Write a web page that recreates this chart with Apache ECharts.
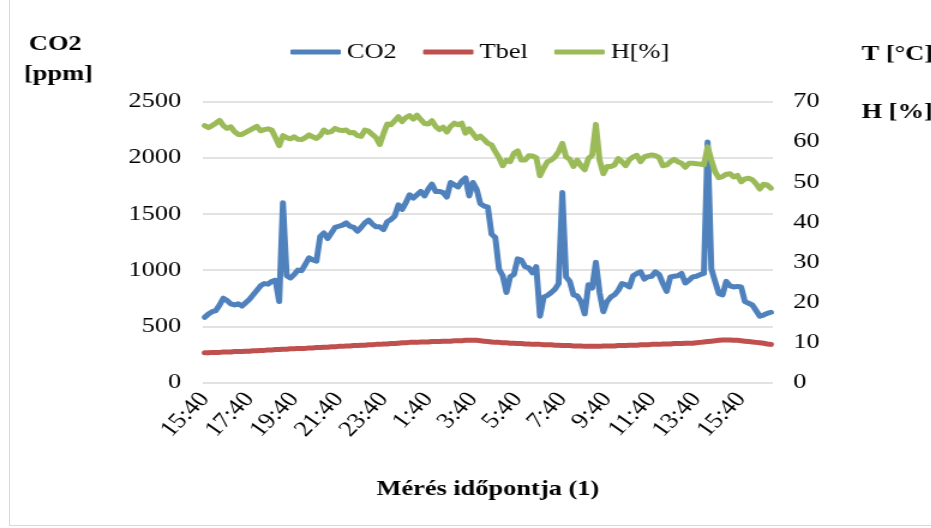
<!DOCTYPE html>
<html>
<head>
<meta charset="utf-8">
<script src="https://cdn.jsdelivr.net/npm/echarts@6/dist/echarts.min.js"></script>
<style>
  html, body { margin: 0; padding: 0; background: #fff; overflow: hidden; }
  #frame { position: absolute; left: 9px; top: -2px; width: 940px; height: 528px; border: 1px solid #d9d9d9; box-sizing: border-box; }
  /* the source picture is stretched sideways, so draw narrower and stretch */
  #chart { position: absolute; left: 0; top: 0; width: 776px; height: 528px; transform: scaleX(1.2); transform-origin: 0 0; }
</style>
</head>
<body>
<div id="frame"></div>
<div id="chart"></div>
<script>
// 10 minute readings, 15:40 -> 17:00 next day
const times = [];
for (let m = 15 * 60 + 40; times.length < 153; m += 10) {
  const h = Math.floor(m / 60) % 24;
  const mm = m % 60;
  times.push(h + ':' + (mm < 10 ? '0' : '') + mm);
}

const co2 = [
  580, 610, 630, 640, 690, 750, 730, 700, 690, 700,
  680, 710, 740, 780, 820, 860, 880, 875, 900, 910,
  720, 1600, 950, 930, 960, 1000, 995, 1050, 1110, 1090,
  1080, 1300, 1330, 1280, 1330, 1380, 1390, 1400, 1420, 1390,
  1380, 1345, 1380, 1420, 1445, 1410, 1385, 1385, 1360, 1430,
  1450, 1480, 1580, 1540, 1600, 1670, 1640, 1670, 1700, 1660,
  1720, 1765, 1700, 1700, 1690, 1650, 1780, 1760, 1740, 1790,
  1820, 1660, 1780, 1720, 1590, 1570, 1560, 1320, 1290, 1010,
  950, 800, 940, 960, 1100, 1090, 1030, 1020, 975, 1030,
  590, 760, 775, 800, 830, 880, 1690, 940, 900, 780,
  770, 720, 610, 870, 840, 1070, 800, 630, 720, 760,
  780, 820, 880, 870, 850, 950, 970, 985, 920, 940,
  945, 985, 960, 880, 810, 940, 945, 950, 970, 885,
  910, 940, 945, 960, 970, 2140, 1010, 900, 790, 780,
  900, 860, 850, 855, 850, 720, 705, 690, 640, 590,
  600, 615, 625
];

const tbel = [
  7.4, 7.4, 7.5, 7.5, 7.5, 7.6, 7.6, 7.6, 7.7, 7.7, 7.7, 7.8, 7.8, 7.9, 7.9, 8.0, 8.0, 8.1,
  8.1, 8.2, 8.2, 8.3, 8.3, 8.4, 8.4, 8.5, 8.5, 8.5, 8.6, 8.6, 8.7, 8.7, 8.8, 8.8, 8.9, 8.9, 9.0, 9.0, 9.1,
  9.1, 9.2, 9.2, 9.3, 9.3, 9.4, 9.4, 9.5, 9.5, 9.6, 9.6, 9.7, 9.7, 9.8, 9.9,
  9.9, 10.0, 10.0, 10.0, 10.1, 10.1, 10.1, 10.2, 10.2, 10.2, 10.3, 10.3, 10.3, 10.4, 10.4,
  10.4, 10.5, 10.5, 10.5, 10.5,
  10.4, 10.3, 10.2, 10.1, 10.0, 10.0, 9.9, 9.9, 9.8,
  9.8, 9.7, 9.7, 9.6, 9.6, 9.5, 9.5, 9.5, 9.4, 9.4, 9.4,
  9.3, 9.3, 9.2, 9.2, 9.2, 9.1, 9.1, 9.1, 9.0, 9.0,
  9.0, 9.0, 9.0, 9.1, 9.1, 9.1, 9.1, 9.2, 9.2, 9.2, 9.3,
  9.3, 9.3, 9.4, 9.4, 9.4, 9.5, 9.5, 9.5, 9.6, 9.6, 9.6, 9.7, 9.7, 9.7, 9.8, 9.8, 9.8, 9.9,
  10.0, 10.1, 10.2, 10.3, 10.4, 10.5, 10.6,
  10.6, 10.6, 10.5, 10.5, 10.4, 10.3,
  10.2, 10.1, 10.0, 9.9, 9.8, 9.6, 9.5
];

const hum = [
  64.0, 63.5, 64.0, 64.6, 65.3, 64.0, 63.3, 63.7, 62.5, 61.8,
  61.8, 62.3, 62.8, 63.3, 63.8, 62.7, 63.0, 63.2, 62.9, 61.0,
  59.0, 61.5, 61.0, 60.7, 61.2, 60.6, 60.5, 61.0, 61.7, 61.2,
  60.8, 61.5, 62.9, 62.3, 62.5, 63.3, 62.9, 62.8, 62.9, 62.2,
  62.3, 61.5, 61.3, 62.9, 62.6, 61.8, 61.0, 59.3, 62.0, 64.4,
  64.2, 65.2, 66.2, 65.0, 66.0, 66.5, 65.6, 66.6, 65.5, 64.5,
  64.4, 65.2, 63.8, 63.0, 63.6, 62.4, 63.8, 64.6, 64.2, 64.6,
  62.1, 63.2, 62.0, 60.8, 61.4, 60.5, 59.6, 59.2, 57.5, 56.0,
  54.0, 55.4, 55.0, 57.1, 57.7, 55.4, 55.4, 56.5, 56.4, 56.0,
  51.5, 53.4, 55.0, 55.4, 56.2, 57.5, 59.6, 56.2, 55.6, 53.8,
  55.4, 54.0, 53.0, 55.8, 56.6, 64.3, 55.4, 52.0, 53.8, 53.8,
  54.2, 55.8, 55.0, 54.0, 55.5, 56.2, 56.6, 55.0, 56.2, 56.5,
  56.7, 56.5, 56.0, 54.0, 54.2, 55.0, 55.6, 55.0, 54.6, 53.6,
  54.6, 54.6, 54.5, 54.4, 54.2, 58.7, 55.4, 52.5, 51.0, 51.3,
  51.9, 52.0, 51.2, 51.6, 50.0, 50.7, 50.9, 50.5, 49.5, 48.2,
  49.4, 49.2, 48.4
];

const serif = '"Liberation Serif", "Times New Roman", serif';

const chart = echarts.init(document.getElementById('chart'), null, { renderer: 'canvas' });

function lineSeries(name, data, color, axis) {
  return {
    name: name,
    type: 'line',
    data: data,
    yAxisIndex: axis,
    symbol: 'none',
    smooth: false,
    itemStyle: { color: color },
    lineStyle: { color: color, width: 5, cap: 'round', join: 'round' }
  };
}

chart.setOption({
  animation: false,
  backgroundColor: 'transparent',
  textStyle: { fontFamily: serif, color: '#000' },
  legend: {
    left: 237,
    top: 36,
    icon: 'roundRect',
    itemWidth: 42,
    itemHeight: 5,
    itemGap: 22,
    textStyle: { fontFamily: serif, fontSize: 22, color: '#000' },
    data: ['CO2', 'Tbel', 'H[%]']
  },
  grid: { left: 169, right: 132, top: 101.5, bottom: 145.5 },
  xAxis: {
    type: 'category',
    data: times,
    boundaryGap: true,
    axisLine: { show: false },
    axisTick: { show: false },
    axisLabel: {
      interval: 11,
      rotate: 50,
      margin: 13,
      fontFamily: serif,
      fontSize: 22,
      color: '#000'
    },
    name: 'Mérés időpontja (1)',
    nameLocation: 'middle',
    nameGap: 96,
    nameTextStyle: { fontFamily: serif, fontSize: 22, fontWeight: 'bold', color: '#000' }
  },
  yAxis: [
    {
      type: 'value',
      min: 0, max: 2500, interval: 500,
      axisLine: { show: false },
      axisTick: { show: false },
      axisLabel: { margin: 18, fontFamily: serif, fontSize: 22, color: '#000', formatter: v => String(v) },
      splitLine: { lineStyle: { color: '#d9d9d9', width: 1.5 } }
    },
    {
      type: 'value',
      min: 0, max: 70, interval: 10,
      axisLine: { show: false },
      axisTick: { show: false },
      axisLabel: { margin: 17, fontFamily: serif, fontSize: 22, color: '#000', formatter: v => String(v) },
      splitLine: { show: false }
    }
  ],
  graphic: [
    { type: 'text', left: 24, top: 33, style: { text: 'CO2', font: 'bold 22px ' + serif, fill: '#000' } },
    { type: 'text', left: 20, top: 63, style: { text: '[ppm]', font: 'bold 22px ' + serif, fill: '#000' } },
    { type: 'text', left: 718, top: 43, style: { text: 'T [°C]', font: 'bold 22px ' + serif, fill: '#000' } },
    { type: 'text', left: 718, top: 101, style: { text: 'H [%]', font: 'bold 22px ' + serif, fill: '#000' } }
  ],
  series: [
    lineSeries('CO2', co2, '#4f81bd', 0),
    lineSeries('Tbel', tbel, '#c0504d', 1),
    lineSeries('H[%]', hum, '#9bbb59', 1)
  ]
});
</script>
</body>
</html>
